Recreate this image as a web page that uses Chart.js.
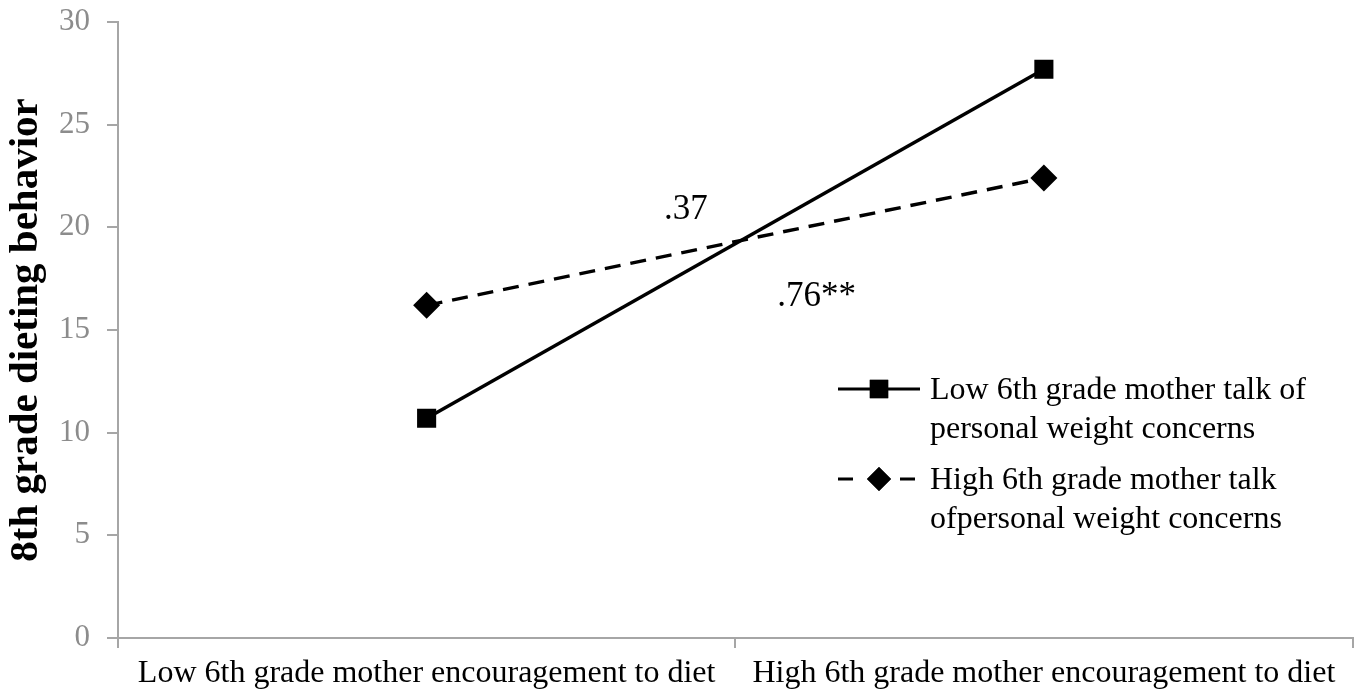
<!DOCTYPE html>
<html>
<head>
<meta charset="utf-8">
<script src="https://cdn.jsdelivr.net/npm/chart.js@4"></script>
<style>
  html,body{margin:0;padding:0;background:#fff;}
  #wrap{width:1366px;height:698px;}
</style>
</head>
<body>
<div id="wrap"><canvas id="c" width="1366" height="698"></canvas></div>
<script>
// datos
const categories = ['Low 6th grade mother encouragement to diet', 'High 6th grade mother encouragement to diet'];
const lowTalk = [10.7, 27.7];
const highTalk = [16.2, 22.4];
const seriesNames = [
  ['Low 6th grade mother talk of', 'personal weight concerns'],
  ['High 6th grade mother talk', 'ofpersonal weight concerns']
];
const yTicks = [0, 5, 10, 15, 20, 25, 30];
// etiquetas de pendiente (x = índice de categoría, y = valor)
const slopeLabels = [
  {text: '.37', x: 0.42, y: 20.85},
  {text: '.76**', x: 0.632, y: 16.6}
];

const FONT = '"Liberation Serif", "Times New Roman", serif';
const AXIS_GRAY = '#a6a6a6';

// ---------- plugin: etiquetas + leyenda
const extras = {
  id: 'extras',
  afterDraw(chart){
    const {ctx, scales:{x, y}} = chart;
    ctx.save();
    ctx.fillStyle = '#000';
    ctx.font = '35px ' + FONT;
    ctx.textAlign = 'center';
    ctx.textBaseline = 'middle';
    slopeLabels.forEach(l => ctx.fillText(l.text, x.getPixelForValue(l.x), y.getPixelForValue(l.y)));

    // leyenda
    const lx = 838, tx = 930;
    const rows = [389, 479];
    ctx.textAlign = 'left';
    ctx.font = '32px ' + FONT;
    rows.forEach((ry, i) => {
      const ds = chart.data.datasets[i];
      ctx.strokeStyle = '#000';
      ctx.lineWidth = 3;
      ctx.setLineDash(i === 0 ? [] : [15, 16]);
      ctx.beginPath();
      ctx.moveTo(lx, ry);
      ctx.lineTo(lx + 82, ry);
      ctx.stroke();
      ctx.setLineDash([]);
      Chart.helpers.drawPoint(ctx, {pointStyle: ds.pointStyle, radius: i === 0 ? 13 : 12, rotation: 0, borderWidth: 0}, lx + 41, ry);
      ctx.fillStyle = '#000';
      ctx.fill();
      seriesNames[i].forEach((t, k) => ctx.fillText(t, tx, ry + 2 + k * 39));
    });
    ctx.restore();
  }
};

const chart = new Chart(document.getElementById('c'), {
  type: 'line',
  data: {
    labels: categories,
    datasets: [
      {
        label: seriesNames[0].join(' '),
        data: lowTalk,
        borderColor: '#000',
        backgroundColor: '#000',
        borderWidth: 3.5,
        pointStyle: 'rect',
        pointRadius: 13.5,
        pointBorderWidth: 0,
        tension: 0
      },
      {
        label: seriesNames[1].join(' '),
        data: highTalk,
        borderColor: '#000',
        backgroundColor: '#000',
        borderWidth: 3.5,
        borderDash: [16, 10],
        pointStyle: 'rectRot',
        pointRadius: 13.5,
        pointBorderWidth: 0,
        tension: 0
      }
    ]
  },
  options: {
    responsive: false,
    animation: false,
    devicePixelRatio: 1,
    layout: {padding: {top: 22, right: 11, left: 0, bottom: 0}},
    plugins: {legend: {display: false}, tooltip: {enabled: false}},
    scales: {
      x: {
        offset: true,
        grid: {offset: true, display: true, drawOnChartArea: false, color: AXIS_GRAY, tickLength: 10, lineWidth: 2},
        border: {color: AXIS_GRAY, width: 2},
        ticks: {color: '#000', font: {family: FONT, size: 32}, padding: 6, maxRotation: 0, autoSkip: false},
        afterFit: s => { s.height = 60; s.paddingLeft = 0; s.paddingRight = 0; }
      },
      y: {
        min: 0, max: 30,
        afterBuildTicks: s => { s.ticks = yTicks.map(v => ({value: v})); },
        grid: {display: true, drawOnChartArea: false, color: AXIS_GRAY, tickLength: 11, lineWidth: 2},
        border: {color: AXIS_GRAY, width: 2},
        ticks: {color: '#8c8c8c', font: {family: FONT, size: 31}, padding: 17},
        title: {display: true, text: '8th grade dieting behavior', color: '#000', font: {family: FONT, size: 41, weight: 'bold'}, padding: {top: 2, bottom: 0}},
        afterFit: s => { s.width = 118; s.paddingTop = 0; s.paddingBottom = 0; }
      }
    }
  },
  plugins: [extras]
});
</script>
</body>
</html>
